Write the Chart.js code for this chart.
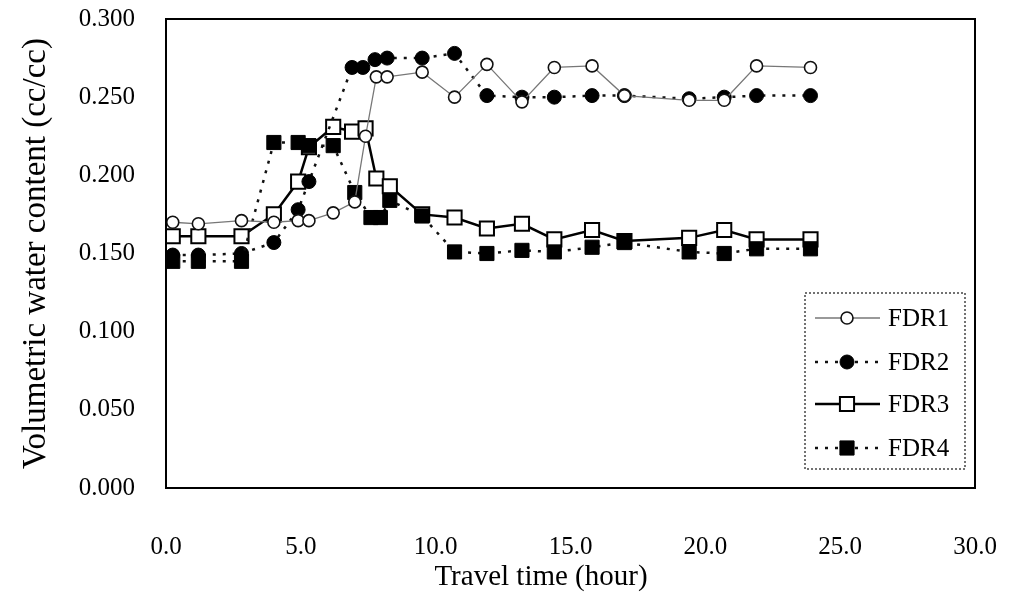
<!DOCTYPE html>
<html>
<head>
<meta charset="utf-8">
<script src="https://cdn.jsdelivr.net/npm/chart.js@4/dist/chart.umd.min.js"></script>
<style>
  html, body { margin: 0; padding: 0; background: #fff; }
  #wrap { width: 1014px; height: 595px; }
</style>
</head>
<body>
<div id="wrap"><canvas id="vwcChart"></canvas></div>
<script>
// values (travel time in hours, water content in cc/cc)
const fdr1Time = [0.25, 1.2, 2.8, 4.0, 4.9, 5.3, 6.2, 7.0, 7.4, 7.8, 8.2, 9.5, 10.7, 11.9, 13.2, 14.4, 15.8, 17.0, 19.4, 20.7, 21.9, 23.9];
const fdr1 = [0.170, 0.169, 0.171, 0.170, 0.171, 0.171, 0.176, 0.183, 0.225, 0.263, 0.263, 0.266, 0.250, 0.271, 0.247, 0.269, 0.270, 0.251, 0.248, 0.248, 0.270, 0.269];

const fdr2Time = [0.25, 1.2, 2.8, 4.0, 4.9, 5.3, 6.9, 7.3, 7.75, 8.2, 9.5, 10.7, 11.9, 13.2, 14.4, 15.8, 17.0, 19.4, 20.7, 21.9, 23.9];
const fdr2 = [0.149, 0.149, 0.150, 0.157, 0.178, 0.196, 0.269, 0.269, 0.274, 0.275, 0.275, 0.278, 0.251, 0.250, 0.250, 0.251, 0.251, 0.249, 0.250, 0.251, 0.251];

const fdr3Time = [0.25, 1.2, 2.8, 4.0, 4.9, 5.3, 6.2, 6.9, 7.4, 7.8, 8.3, 9.5, 10.7, 11.9, 13.2, 14.4, 15.8, 17.0, 19.4, 20.7, 21.9, 23.9];
const fdr3 = [0.161, 0.161, 0.161, 0.175, 0.196, 0.218, 0.231, 0.228, 0.230, 0.198, 0.193, 0.175, 0.173, 0.166, 0.169, 0.159, 0.165, 0.158, 0.160, 0.165, 0.159, 0.159];

const fdr4Time = [0.25, 1.2, 2.8, 4.0, 4.9, 5.3, 6.2, 7.0, 7.6, 7.95, 8.3, 9.5, 10.7, 11.9, 13.2, 14.4, 15.8, 17.0, 19.4, 20.7, 21.9, 23.9];
const fdr4 = [0.145, 0.145, 0.145, 0.221, 0.221, 0.219, 0.219, 0.189, 0.173, 0.173, 0.184, 0.174, 0.151, 0.150, 0.152, 0.151, 0.154, 0.157, 0.151, 0.150, 0.153, 0.153];

const seriesNames = ['FDR1', 'FDR2', 'FDR3', 'FDR4'];
const xTicks = [0, 5, 10, 15, 20, 25, 30];
const yTicks = [0, 0.05, 0.1, 0.15, 0.2, 0.25, 0.3];
const xTitle = 'Travel time (hour)';

const serif = "'Liberation Serif', 'Times New Roman', serif";

function toPoints(xs, ys) {
    return xs.map((x, i) => ({x: x, y: ys[i]}));
}

// box around the plot, x title (sits left of centre in the original) and legend inside the plot
const framePlugin = {
    id: 'frame',
    afterDraw(chart) {
        const ctx = chart.ctx;
        const a = chart.chartArea;
        ctx.save();
        ctx.strokeStyle = '#000';
        ctx.lineWidth = 2;
        ctx.strokeRect(a.left, a.top, a.right - a.left, a.bottom - a.top);

        ctx.fillStyle = '#000';
        ctx.font = '29px ' + serif;
        ctx.textAlign = 'center';
        ctx.textBaseline = 'middle';
        ctx.fillText(xTitle, 541, 577);

        // legend box
        const bx = 805, by = 293, bw = 160, bh = 176;
        ctx.fillStyle = '#fff';
        ctx.fillRect(bx, by, bw, bh);
        ctx.setLineDash([2, 2]);
        ctx.lineWidth = 1.5;
        ctx.strokeStyle = '#444';
        ctx.strokeRect(bx, by, bw, bh);

        const rows = [318, 362, 404, 448];
        chart.data.datasets.forEach((ds, i) => {
            const y = rows[i];
            ctx.save();
            ctx.strokeStyle = ds.borderColor;
            ctx.lineWidth = ds.borderWidth;
            ctx.setLineDash(ds.borderDash || []);
            ctx.beginPath();
            ctx.moveTo(815, y);
            ctx.lineTo(880, y);
            ctx.stroke();
            ctx.setLineDash([]);
            ctx.fillStyle = ds.pointBackgroundColor;
            ctx.strokeStyle = ds.pointBorderColor;
            ctx.lineWidth = ds.pointBorderWidth;
            Chart.helpers.drawPoint(ctx, {pointStyle: ds.pointStyle, radius: ds.pointRadius, borderWidth: ds.pointBorderWidth}, 847, y);
            ctx.restore();
            ctx.fillStyle = '#000';
            ctx.font = '25px ' + serif;
            ctx.textBaseline = 'middle';
            ctx.textAlign = 'left';
            ctx.fillText(ds.label, 888, y + 1);
        });
        ctx.restore();
    }
};

const ctx = document.getElementById('vwcChart').getContext('2d');
new Chart(ctx, {
    type: 'line',
    data: {
        datasets: [
            {
                label: seriesNames[0],
                data: toPoints(fdr1Time, fdr1),
                borderColor: '#777',
                borderWidth: 1.3,
                pointStyle: 'circle',
                pointRadius: 6,
                pointBackgroundColor: '#fff',
                pointBorderColor: '#111',
                pointBorderWidth: 1.6,
                order: 0
            },
            {
                label: seriesNames[1],
                data: toPoints(fdr2Time, fdr2),
                borderColor: '#111',
                borderWidth: 2.5,
                borderDash: [3, 7],
                pointStyle: 'circle',
                pointRadius: 7,
                pointBackgroundColor: '#000',
                pointBorderColor: '#000',
                pointBorderWidth: 1,
                order: 2
            },
            {
                label: seriesNames[2],
                data: toPoints(fdr3Time, fdr3),
                borderColor: '#000',
                borderWidth: 2.5,
                pointStyle: 'rect',
                pointRadius: 10,
                pointBackgroundColor: '#fff',
                pointBorderColor: '#000',
                pointBorderWidth: 2,
                order: 3
            },
            {
                label: seriesNames[3],
                data: toPoints(fdr4Time, fdr4),
                borderColor: '#111',
                borderWidth: 2.5,
                borderDash: [3, 7],
                pointStyle: 'rect',
                pointRadius: 10,
                pointBackgroundColor: '#000',
                pointBorderColor: '#000',
                pointBorderWidth: 1,
                order: 1
            }
        ]
    },
    options: {
        responsive: true,
        maintainAspectRatio: false,
        animation: false,
        layout: {padding: {top: 19, right: 39, left: 0, bottom: 0}},
        plugins: {
            legend: {display: false},
            tooltip: {enabled: false}
        },
        scales: {
            x: {
                type: 'linear',
                min: 0,
                max: 30,
                afterFit: s => { s.height = 107; s.paddingLeft = 0; s.paddingRight = 0; },
                afterBuildTicks: s => { s.ticks = xTicks.map(v => ({value: v})); },
                grid: {display: false, drawTicks: false},
                border: {display: false},
                ticks: {
                    padding: 44,
                    color: '#000',
                    font: {family: serif, size: 25},
                    callback: v => v.toFixed(1)
                },
                title: {display: false}
            },
            y: {
                min: 0,
                max: 0.3,
                afterFit: s => { s.width = 166; s.paddingTop = 0; s.paddingBottom = 0; },
                afterBuildTicks: s => { s.ticks = yTicks.map(v => ({value: v})); },
                grid: {display: false, drawTicks: false},
                border: {display: false},
                ticks: {
                    padding: 31,
                    color: '#000',
                    font: {family: serif, size: 25},
                    callback: v => v.toFixed(3)
                },
                title: {
                    display: true,
                    text: 'Volumetric water content (cc/cc)',
                    color: '#000',
                    font: {family: serif, size: 33},
                    padding: {top: 17, bottom: 0}
                }
            }
        }
    },
    plugins: [framePlugin]
});
</script>
</body>
</html>
